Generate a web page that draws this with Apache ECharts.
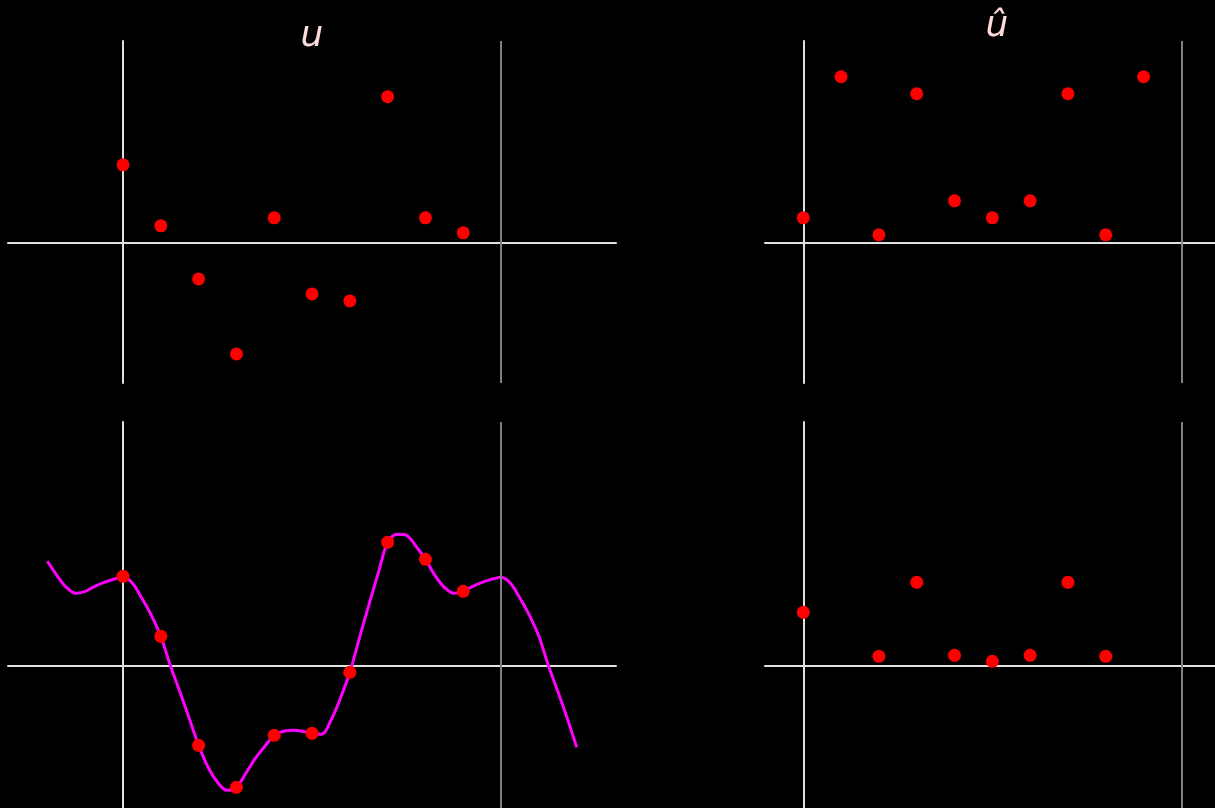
<!DOCTYPE html>
<html>
<head>
<meta charset="utf-8">
<script src="https://cdn.jsdelivr.net/npm/echarts@6/dist/echarts.min.js"></script>
<style>
    html, body {margin: 0; padding: 0; background: #000;}
    #main {width: 1215px; height: 808px;}
</style>
</head>
<body>
<div id="main"></div>
<script>
// sample positions and values
const sampleX = [0, 1, 2, 3, 4, 5, 6, 7, 8, 9];
const uValues = [0.78, 0.17, -0.36, -1.11, 0.25, -0.51, -0.58, 1.46, 0.25, 0.10];
const uHatValues = [0.25, 1.66, 0.08, 1.49, 0.42, 0.25, 0.42, 1.49, 0.08, 1.66];
const vValues = [0.89, 0.29, -0.80, -1.22, -0.70, -0.68, -0.07, 1.23, 1.06, 0.74];
const vHatValues = [0.53, null, 0.09, 0.83, 0.10, 0.04, 0.10, 0.83, 0.09, null];

// magenta curve, read every quarter step from the lower left panel
const curveX = [-2, -1.75, -1.5, -1.25, -1, -0.75, -0.5, -0.25,
    0, 0.25, 0.5, 0.75, 1, 1.25, 1.5, 1.75, 2, 2.25, 2.5, 2.75,
    3, 3.25, 3.5, 3.75, 4, 4.25, 4.5, 4.75, 5, 5.25, 5.5, 5.75,
    6, 6.25, 6.5, 6.75, 7, 7.25, 7.5, 7.75, 8, 8.25, 8.5, 8.75,
    9, 9.25, 9.5, 9.75, 10, 10.25, 10.5, 10.75, 11, 11.25, 11.5, 11.75, 12];
const curveY = [1.04, 0.90, 0.78, 0.72, 0.74, 0.79, 0.83, 0.86,
    0.89, 0.82, 0.67, 0.50, 0.29, 0.00, -0.26, -0.53, -0.80, -1.02, -1.17, -1.25,
    -1.22, -1.08, -0.93, -0.81, -0.70, -0.66, -0.65, -0.66, -0.68, -0.69, -0.55, -0.33,
    -0.07, 0.27, 0.60, 0.92, 1.23, 1.31, 1.30, 1.19, 1.06, 0.90, 0.78, 0.72,
    0.74, 0.79, 0.83, 0.86, 0.88, 0.82, 0.67, 0.50, 0.29, 0.00, -0.26, -0.53, -0.82];

const periodX = 10;

const chartDom = document.getElementById('main');
const myChart = echarts.init(chartDom);
let option;

const pairs = (xs, ys) => xs.map((x, i) => [x, ys[i]]).filter(it => it[1] !== null);

const lineColor = '#e0e0e0';

const makeAxis = (gridIndex, min, max) => ({
    type: 'value',
    gridIndex: gridIndex,
    min: min,
    max: max,
    axisLine: {show: true, onZero: true, lineStyle: {color: lineColor, width: 2}},
    axisTick: {show: false},
    axisLabel: {show: false},
    splitLine: {show: false}
});

const dots = (index, data) => ({
    type: 'scatter',
    xAxisIndex: index,
    yAxisIndex: index,
    symbolSize: 13,
    z: 5,
    itemStyle: {color: '#ff0000', opacity: 1},
    data: data,
    markLine: {
        silent: true,
        symbol: ['none', 'none'],
        label: {show: false},
        lineStyle: {color: '#808080', width: 2, type: 'solid', opacity: 1},
        data: [{xAxis: periodX}]
    }
});

const titleStyle = {
    fontFamily: 'DejaVu Sans',
    fontStyle: 'italic',
    fontSize: 36,
    fill: '#ffdcdc',
    textAlign: 'center',
    textVerticalAlign: 'middle'
};

option = {
    backgroundColor: '#000',
    animation: false,
    graphic: [
        {type: 'text', x: 312, y: 37, style: Object.assign({text: 'u'}, titleStyle)},
        {type: 'text', x: 997, y: 27, style: Object.assign({text: 'û'}, titleStyle)}
    ],
    grid: [
        {left: 8, top: 41, width: 608, height: 342, outerBoundsMode: 'none'},
        {left: 765, top: 41, width: 464, height: 342, outerBoundsMode: 'none'},
        {left: 8, top: 422, width: 608, height: 400, outerBoundsMode: 'none'},
        {left: 765, top: 422, width: 464, height: 400, outerBoundsMode: 'none'}
    ],
    xAxis: [
        makeAxis(0, -3.042, 13.04),
        makeAxis(1, -1.013, 11.26),
        makeAxis(2, -3.042, 13.04),
        makeAxis(3, -1.013, 11.26)
    ],
    yAxis: [
        makeAxis(0, -1.40, 2.017),
        makeAxis(1, -1.40, 2.017),
        makeAxis(2, -1.567, 2.433),
        makeAxis(3, -1.567, 2.433)
    ],
    series: [
        dots(0, pairs(sampleX, uValues)),
        dots(1, pairs(sampleX, uHatValues)),
        {
            type: 'line',
            xAxisIndex: 2,
            yAxisIndex: 2,
            smooth: 0.33,
            showSymbol: false,
            z: 3,
            lineStyle: {color: '#ff00ff', width: 3},
            data: pairs(curveX, curveY)
        },
        dots(2, pairs(sampleX, vValues)),
        dots(3, pairs(sampleX, vHatValues))
    ]
};

option && myChart.setOption(option);
</script>
</body>
</html>
